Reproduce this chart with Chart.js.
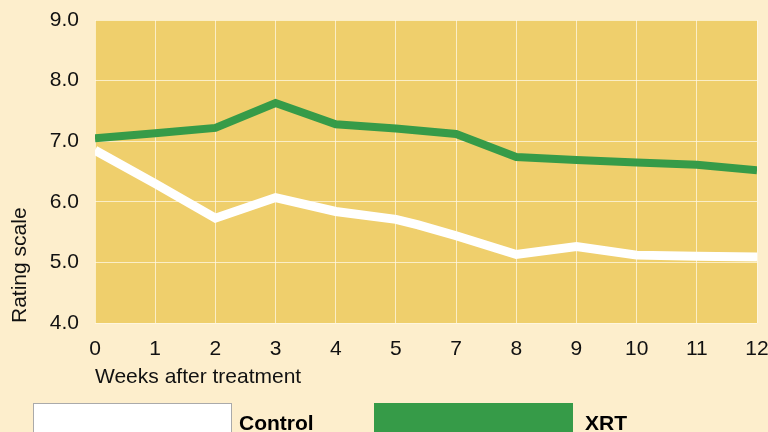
<!DOCTYPE html>
<html>
<head>
<meta charset="utf-8">
<script src="https://cdn.jsdelivr.net/npm/chart.js@4/dist/chart.umd.min.js"></script>
<style>
  html, body { margin: 0; padding: 0; background: #fdeecc; overflow: hidden; }
  #wrap { position: relative; width: 768px; height: 432px; overflow: hidden; }
  #c { position: absolute; left: 0; top: 0; }
  .lg-box { position: absolute; top: 403px; width: 199px; height: 40px; box-sizing: border-box; }
  .lg-text { position: absolute; top: 412px; font: bold 21px "Liberation Sans", Arial, sans-serif; line-height: 21px; color: #000; white-space: nowrap; }
</style>
</head>
<body>
<div id="wrap">
  <canvas id="c" width="768" height="432"></canvas>
  <div id="legend"></div>
</div>
<script>
// ---- data ----
const weekLabels = ["0", "1", "2", "3", "4", "5", "7", "8", "9", "10", "11", "12"];
const xrtX = [0, 1, 2, 3, 4, 5, 6, 7, 8, 9, 10, 11];
const xrtY = [7.05, 7.13, 7.22, 7.63, 7.28, 7.21, 7.12, 6.74, 6.69, 6.65, 6.61, 6.52];
const controlX = [0, 1, 2, 3, 4, 5, 5.37, 6, 7, 8, 9, 10, 11];
const controlY = [6.85, 6.30, 5.73, 6.07, 5.84, 5.71, 5.62, 5.44, 5.13, 5.26, 5.12, 5.10, 5.09];
const yTicks = [4.0, 5.0, 6.0, 7.0, 8.0, 9.0];
const seriesNames = ["Control", "XRT"];

const toPoints = (xs, ys) => xs.map((x, i) => ({ x: x, y: ys[i] }));

const plotBg = {
  id: 'plotBg',
  beforeDraw(chart) {
    const { ctx, chartArea: a } = chart;
    ctx.save();
    ctx.fillStyle = '#efcf6c';
    ctx.fillRect(a.left, a.top, a.right - a.left, a.bottom - a.top);
    ctx.restore();
  }
};

const FONT = "'Liberation Sans', Arial, sans-serif";
const GRID = 'rgba(255,248,228,0.75)';
const chart = new Chart(document.getElementById('c'), {
  type: 'line',
  data: {
    datasets: [
      {
        label: seriesNames[0],
        data: toPoints(controlX, controlY),
        borderColor: '#ffffff',
        backgroundColor: '#ffffff',
        borderWidth: 9,
        pointRadius: 0,
        tension: 0,
        legendBorder: '#aaaaaa'
      },
      {
        label: seriesNames[1],
        data: toPoints(xrtX, xrtY),
        borderColor: '#369b48',
        backgroundColor: '#369b48',
        borderWidth: 8,
        pointRadius: 0,
        tension: 0
      }
    ]
  },
  options: {
    responsive: false,
    animation: false,
    layout: { padding: { top: 20, right: 11, bottom: 40, left: 0 } },
    plugins: { legend: { display: false }, tooltip: { enabled: false } },
    scales: {
      x: {
        type: 'linear',
        min: 0,
        max: weekLabels.length - 1,
        afterFit(s) { s.height = 69; s.paddingLeft = 0; s.paddingRight = 0; },
        afterBuildTicks(s) { s.ticks = weekLabels.map((_, i) => ({ value: i })); },
        ticks: {
          autoSkip: false,
          maxRotation: 0,
          padding: 14,
          color: '#111',
          font: { family: FONT, size: 21 },
          callback: (v) => weekLabels[v]
        },
        grid: { color: GRID, lineWidth: 1, drawTicks: false },
        border: { display: false },
        title: {
          display: true,
          text: 'Weeks after treatment',
          align: 'start',
          color: '#111',
          font: { family: FONT, size: 21 },
          padding: { top: 0, bottom: 2 }
        }
      },
      y: {
        min: 4,
        max: 9,
        afterFit(s) { s.width = 95; s.paddingTop = 0; s.paddingBottom = 0; },
        afterBuildTicks(s) { s.ticks = yTicks.map(v => ({ value: v })); },
        ticks: {
          padding: 16,
          color: '#111',
          font: { family: FONT, size: 21 },
          callback: (v) => Number(v).toFixed(1)
        },
        grid: { color: GRID, lineWidth: 1, drawTicks: false },
        border: { display: false },
        title: {
          display: true,
          text: 'Rating scale',
          align: 'start',
          color: '#111',
          font: { family: FONT, size: 21 },
          padding: { top: 8, bottom: 0 }
        }
      }
    }
  },
  plugins: [plotBg]
});

// HTML legend built from the chart's datasets
const legendPos = [{ box: 33, text: 239 }, { box: 374, text: 585 }];
const lg = document.getElementById('legend');
chart.data.datasets.forEach((ds, i) => {
  const b = document.createElement('div');
  b.className = 'lg-box';
  b.style.left = legendPos[i].box + 'px';
  b.style.background = ds.backgroundColor;
  if (ds.legendBorder) b.style.border = '1px solid ' + ds.legendBorder;
  lg.appendChild(b);
  const t = document.createElement('div');
  t.className = 'lg-text';
  t.style.left = legendPos[i].text + 'px';
  t.textContent = ds.label;
  lg.appendChild(t);
});
</script>
</body>
</html>
